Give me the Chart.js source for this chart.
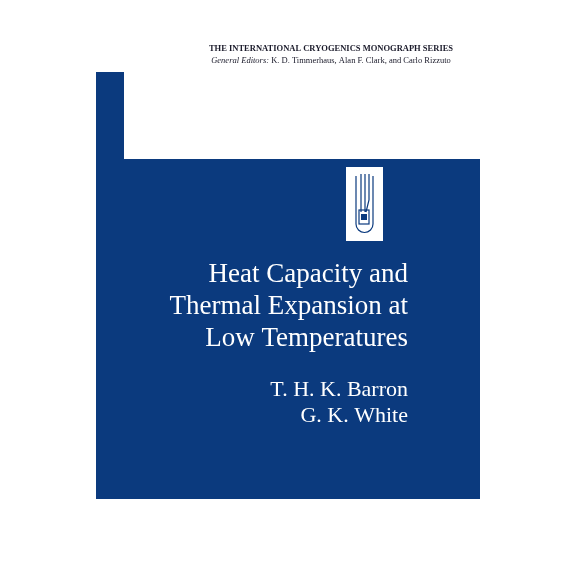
<!DOCTYPE html>
<html><head><meta charset="utf-8">
<script src="https://cdn.jsdelivr.net/npm/chart.js@4"></script>
<style>html,body{margin:0;padding:0;background:#fff}#c{display:block}</style>
</head><body>
<div style="width:576px;height:576px"><canvas id="c"></canvas></div>
<script>
// outline of the blue panel (page coordinates, y down)
const shapeX = [96, 124, 124, 480, 480, 96];
const shapeY = [72, 72, 159, 159, 499, 499];
const headerLines = ['THE INTERNATIONAL CRYOGENICS MONOGRAPH SERIES'];
const titleLines = ['Heat Capacity and', 'Thermal Expansion at', 'Low Temperatures'];
const authors = ['T. H. K. Barron', 'G. K. White'];
const blue = '#0b3a7e';

const cover = {
  id: 'cover',
  beforeDatasetsDraw(chart) {
    const {ctx, scales: {x, y}} = chart;
    const X = v => x.getPixelForValue(v), Y = v => y.getPixelForValue(v);
    ctx.save();
    ctx.fillStyle = blue;
    ctx.beginPath();
    shapeX.forEach((v, i) => i ? ctx.lineTo(X(v), Y(shapeY[i])) : ctx.moveTo(X(v), Y(shapeY[i])));
    ctx.closePath(); ctx.fill();
    // icon box
    ctx.fillStyle = '#fff';
    ctx.fillRect(X(346), Y(167), X(383) - X(346), Y(241) - Y(167));
    ctx.strokeStyle = blue; ctx.lineWidth = 1.2;
    ctx.beginPath();
    ctx.moveTo(X(356), Y(176)); ctx.lineTo(X(356), Y(224));
    ctx.arc(X(364.5), Y(224), 8.5, Math.PI, 0, true);
    ctx.lineTo(X(373), Y(176));
    ctx.moveTo(X(361), Y(174)); ctx.lineTo(X(361), Y(212));
    ctx.moveTo(X(365), Y(174)); ctx.lineTo(X(365), Y(212));
    ctx.moveTo(X(369), Y(174)); ctx.lineTo(X(369), Y(200)); ctx.lineTo(X(366), Y(212));
    ctx.stroke();
    ctx.strokeRect(X(359), Y(210), 10, 14);
    ctx.fillStyle = blue; ctx.fillRect(X(361), Y(214), 6, 6);
    // texts
    ctx.fillStyle = '#1a1a2a';
    ctx.textAlign = 'center'; ctx.textBaseline = 'alphabetic';
    ctx.font = 'bold 8.5px "Liberation Serif"';
    ctx.fillText(headerLines[0], X(331), Y(51));
    ctx.font = 'italic 8.5px "Liberation Serif"';
    const a = 'General Editors: ', b = 'K. D. Timmerhaus, Alan F. Clark, and Carlo Rizzuto';
    const wa = ctx.measureText(a).width;
    ctx.font = '8.5px "Liberation Serif"';
    const wb = ctx.measureText(b).width;
    let sx = X(331) - (wa + wb) / 2;
    ctx.textAlign = 'left';
    ctx.font = 'italic 8.5px "Liberation Serif"'; ctx.fillText(a, sx, Y(63));
    ctx.font = '8.5px "Liberation Serif"'; ctx.fillText(b, sx + wa, Y(63));
    ctx.fillStyle = '#fff'; ctx.textAlign = 'right';
    ctx.font = '27px "Liberation Serif"';
    titleLines.forEach((t, i) => ctx.fillText(t, X(408), Y(282 + i * 32)));
    ctx.font = '22px "Liberation Serif"';
    authors.forEach((t, i) => ctx.fillText(t, X(408), Y(396 + i * 26)));
    ctx.restore();
  }
};

new Chart(document.getElementById('c'), {
  type: 'scatter',
  data: {datasets: [{data: shapeX.map((v, i) => ({x: v, y: shapeY[i]})), pointRadius: 0}]},
  options: {
    responsive: true, maintainAspectRatio: false, animation: false,
    layout: {padding: 0},
    plugins: {legend: {display: false}, tooltip: {enabled: false}},
    scales: {
      x: {type: 'linear', min: 0, max: 576, display: false},
      y: {type: 'linear', min: 0, max: 576, reverse: true, display: false}
    }
  },
  plugins: [cover]
});
</script>
</body></html>
